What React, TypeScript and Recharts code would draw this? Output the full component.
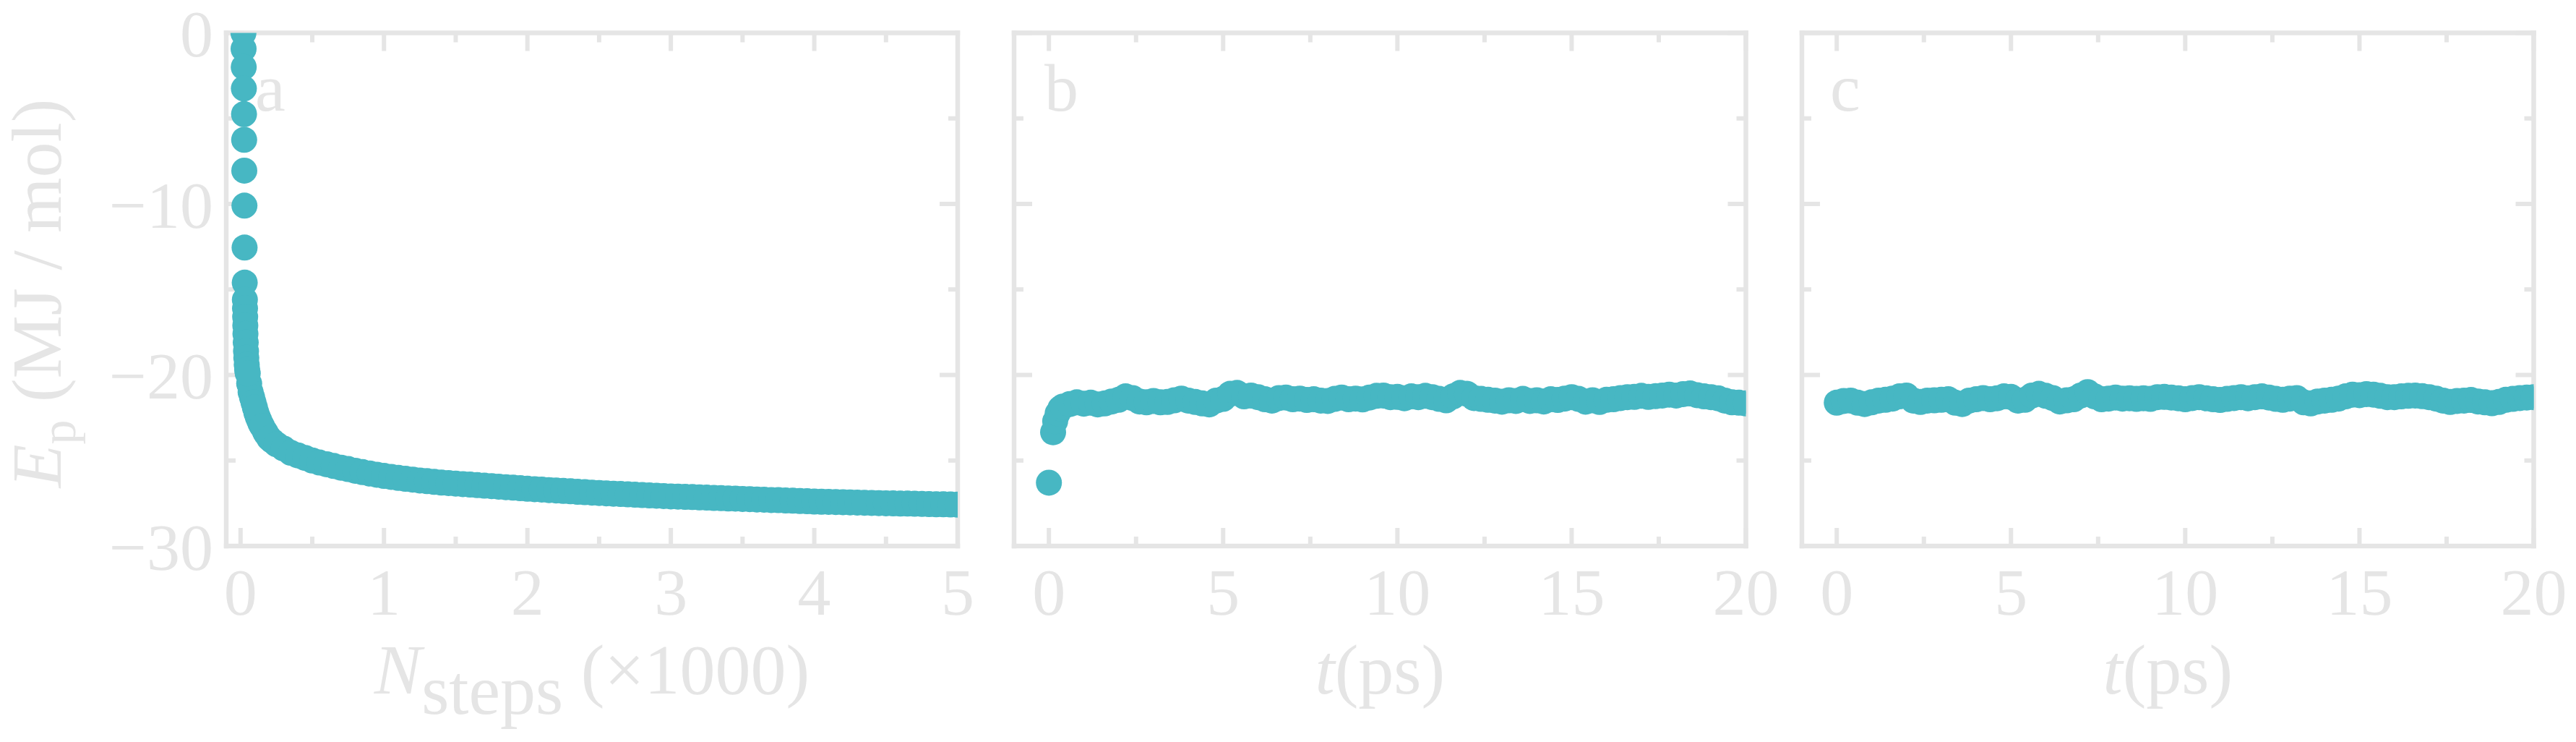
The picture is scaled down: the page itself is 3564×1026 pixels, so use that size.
import React from 'react';
import { ScatterChart, Scatter, XAxis, YAxis } from 'recharts';

const INK = '#e5e5e5';
const DOT = '#47b7c3';
const FONT = '"Liberation Serif", "DejaVu Serif", serif';

// panel a: energy minimisation, x in thousands of steps
const minEarlySteps = [0.020, 0.021, 0.022, 0.023, 0.024, 0.025, 0.026, 0.027, 0.028, 0.029,
  0.030, 0.031, 0.032, 0.033, 0.034, 0.036, 0.038, 0.040, 0.043, 0.046, 0.06, 0.07, 0.08, 0.09,
  0.11, 0.12, 0.13, 0.14, 0.17, 0.18, 0.22];
const minEarlyEnergy = [0.0, -0.93, -2.0, -3.25, -4.75, -6.25, -8.05, -10.1, -12.55, -14.6,
  -15.6, -16.1, -16.6, -17.1, -17.6, -18.1, -18.6, -19.0, -19.4, -19.7, -20.5, -21.0, -21.3, -21.6,
  -22.2, -22.45, -22.65, -22.85, -23.3, -23.45, -23.85];
const minStep = 0.05; // sampling of the slow tail, starts at 0.05
const minLateEnergy = [
  -19.9, -21.9, -23.0, -23.7, -24.05, -24.3, -24.55, -24.7, -24.85, -25.0,
  -25.12, -25.22, -25.32, -25.42, -25.5, -25.6, -25.68, -25.76, -25.83, -25.9,
  -25.96, -26.02, -26.07, -26.12, -26.17, -26.21, -26.25, -26.29, -26.32, -26.35,
  -26.38, -26.41, -26.44, -26.47, -26.5, -26.53, -26.56, -26.59, -26.62, -26.65,
  -26.68, -26.7, -26.73, -26.75, -26.78, -26.8, -26.83, -26.85, -26.88, -26.9,
  -26.92, -26.94, -26.96, -26.98, -27.0, -27.02, -27.04, -27.06, -27.08, -27.1,
  -27.11, -27.13, -27.14, -27.16, -27.17, -27.19, -27.2, -27.22, -27.23, -27.25,
  -27.26, -27.28, -27.29, -27.31, -27.32, -27.34, -27.35, -27.37, -27.38, -27.4,
  -27.41, -27.42, -27.43, -27.44, -27.45, -27.46, -27.47, -27.48, -27.49, -27.5,
  -27.51, -27.52, -27.52, -27.53, -27.54, -27.55, -27.56, -27.56, -27.57, -27.58,
];

// panel b: MD run starting from the minimised structure (t in ps)
const mdStep = 0.2;
const runBEarlyTime = [0, 0.12, 0.18, 0.25, 0.33];
const runBEarlyEnergy = [-26.3, -23.35, -22.7, -22.25, -21.95];
const runBStart = 0.4;
const runBEnergy = [
  -21.85, -21.7, -21.6, -21.68, -21.62, -21.72, -21.66, -21.55, -21.45, -21.25,
  -21.35, -21.55, -21.6, -21.52, -21.6, -21.58, -21.48, -21.38, -21.5, -21.58,
  -21.66, -21.72, -21.5, -21.4, -21.1, -21.05, -21.25, -21.2, -21.3, -21.42,
  -21.5, -21.35, -21.32, -21.42, -21.38, -21.46, -21.42, -21.5, -21.52, -21.4,
  -21.32, -21.42, -21.38, -21.43, -21.32, -21.22, -21.2, -21.3, -21.28, -21.36,
  -21.25, -21.3, -21.22, -21.3, -21.4, -21.48, -21.25, -21.05, -21.1, -21.35,
  -21.4, -21.45, -21.5, -21.56, -21.48, -21.52, -21.4, -21.52, -21.48, -21.55,
  -21.42, -21.46, -21.38, -21.3, -21.4, -21.56, -21.48, -21.58, -21.45, -21.42,
  -21.35, -21.3, -21.28, -21.22, -21.28, -21.24, -21.2, -21.15, -21.2, -21.12,
  -21.08, -21.18, -21.25, -21.3, -21.36, -21.5, -21.6, -21.62, -21.66,
];

// panel c: continued MD run (t in ps, 0..20)
const runCEnergy = [
  -21.62, -21.52, -21.5, -21.62, -21.7, -21.6, -21.5, -21.45, -21.38, -21.25,
  -21.2, -21.5, -21.58, -21.5, -21.48, -21.45, -21.42, -21.62, -21.7, -21.5,
  -21.42, -21.35, -21.42, -21.36, -21.25, -21.28, -21.5, -21.45, -21.2, -21.1,
  -21.22, -21.35, -21.55, -21.48, -21.42, -21.2, -21.0, -21.25, -21.42, -21.38,
  -21.32, -21.38, -21.36, -21.4, -21.36, -21.4, -21.3, -21.28, -21.32, -21.36,
  -21.42, -21.35, -21.3, -21.36, -21.42, -21.46, -21.4, -21.35, -21.3, -21.36,
  -21.3, -21.25, -21.32, -21.4, -21.45, -21.38, -21.35, -21.6, -21.66, -21.55,
  -21.5, -21.45, -21.38, -21.25, -21.15, -21.18, -21.12, -21.15, -21.22, -21.3,
  -21.3, -21.25, -21.22, -21.2, -21.24, -21.3, -21.38, -21.5, -21.58, -21.52,
  -21.5, -21.46, -21.55, -21.6, -21.65, -21.58, -21.45, -21.4, -21.35, -21.32,
  -21.3,
];

const yMajor = [0, -10, -20, -30];
const yMinor = [-5, -15, -25];
const minMajor = [0, 1, 2, 3, 4, 5];
const minMinor = [0.5, 1.5, 2.5, 3.5, 4.5];
const mdMajor = [0, 5, 10, 15, 20];
const mdMinor = [2.5, 7.5, 12.5, 17.5];

const minData = [
  ...minEarlySteps.map((x, i) => ({ x, y: minEarlyEnergy[i] })),
  ...minLateEnergy.map((y, i) => ({ x: +(minStep * (i + 1)).toFixed(2), y })),
];
const runBData = [
  ...runBEarlyTime.map((x, i) => ({ x, y: runBEarlyEnergy[i] })),
  ...runBEnergy.map((y, i) => ({ x: +(runBStart + mdStep * i).toFixed(2), y })),
];
const runCData = runCEnergy.map((y, i) => ({ x: +(mdStep * i).toFixed(2), y }));

const W = 3564;
const H = 1026;
const TOP = 45.5;
const BOTTOM = 755;
const MAJOR_LEN = 25;
const MINOR_LEN = 13;
const frame = { stroke: INK, strokeWidth: 6.5, strokeLinecap: 'square' as const };
const minus = (v: number) => String(v).replace('-', '\u2212');

// inward tick marks on bottom and top, label under the major ones
const makeXTick = (major: number[]) => (p: any) => {
  const v = p.payload.value;
  const isMajor = major.includes(v);
  const len = isMajor ? MAJOR_LEN : MINOR_LEN;
  return (
    <g>
      <line x1={p.x} x2={p.x} y1={BOTTOM} y2={BOTTOM - len} stroke={INK} strokeWidth={6} />
      <line x1={p.x} x2={p.x} y1={TOP} y2={TOP + len} stroke={INK} strokeWidth={6} />
      {isMajor && (
        <text x={p.x} y={p.y} dy="0.71em" textAnchor="middle" fill={INK} fontSize={92} fontFamily={FONT}>{v}</text>
      )}
    </g>
  );
};

// inward tick marks on left and right, optional labels
const makeYTick = (left: number, right: number, labels: boolean) => (p: any) => {
  const v = p.payload.value;
  const isMajor = yMajor.includes(v);
  const len = isMajor ? MAJOR_LEN : MINOR_LEN;
  return (
    <g>
      <line x1={left} x2={left + len} y1={p.y} y2={p.y} stroke={INK} strokeWidth={6} />
      <line x1={right} x2={right - len} y1={p.y} y2={p.y} stroke={INK} strokeWidth={6} />
      {labels && isMajor && (
        <text x={p.x} y={p.y} dy="0.355em" textAnchor="end" fill={INK} fontSize={92} fontFamily={FONT}>{minus(v)}</text>
      )}
    </g>
  );
};

const stepsTitle = (p: any) => {
  const vb = p.viewBox;
  return (
    <text x={vb.x + vb.width / 2} y={vb.y + 204} textAnchor="middle" fill={INK} fontFamily={FONT} fontSize={98}>
      <tspan fontStyle="italic">N</tspan>
      <tspan dy={28}>steps</tspan>
      <tspan dy={-28}>{' (\u00d71000)'}</tspan>
    </text>
  );
};

const timeTitle = (p: any) => {
  const vb = p.viewBox;
  return (
    <text x={vb.x + vb.width / 2} y={vb.y + 204} textAnchor="middle" fill={INK} fontFamily={FONT} fontSize={98}>
      <tspan fontStyle="italic">t</tspan>
      <tspan>(ps)</tspan>
    </text>
  );
};

const energyTitle = (p: any) => {
  const vb = p.viewBox;
  const cx = vb.x - 228;
  const cy = vb.y + 360;
  return (
    <text x={cx} y={cy} transform={`rotate(-90, ${cx}, ${cy})`} textAnchor="middle" fill={INK} fontFamily={FONT} fontSize={98}>
      <tspan fontStyle="italic">E</tspan>
      <tspan fontSize={68} dy={20}>p</tspan>
      <tspan dy={-20}>{' (MJ / mol)'}</tspan>
    </text>
  );
};

const dot = (p: any) => <circle cx={p.cx} cy={p.cy} r={18} fill={DOT} />;
const noDot = () => <g />;

type PanelProps = {
  data: { x: number; y: number }[];
  left: number;
  right: number;
  xDomain: [number, number];
  xMajor: number[];
  xMinor: number[];
  title: (p: any) => React.ReactElement;
  yLabels?: boolean;
};

const layer: React.CSSProperties = { position: 'absolute', left: 0, top: 0 };

// two stacked charts with the same plot box: ticks and labels below, dots and frame above
const Panel: React.FC<PanelProps> = ({ data, left, right, xDomain, xMajor, xMinor, title, yLabels }) => (
  <>
    <div style={layer}>
      <ScatterChart width={W} height={H} margin={{ top: TOP, bottom: H - BOTTOM - 1, left: left - 1, right: W - right }}>
        <XAxis xAxisId="x" type="number" dataKey="x" domain={xDomain} allowDataOverflow ticks={[...xMajor, ...xMinor]} interval={0}
          height={1} tickLine={false} tickSize={0} tickMargin={30} axisLine={false} tick={makeXTick(xMajor)} label={{ content: title }} />
        <YAxis yAxisId="y" type="number" dataKey="y" domain={[-30, 0]} allowDataOverflow ticks={[...yMajor, ...yMinor]} interval={0}
          width={1} tickLine={false} tickSize={0} tickMargin={18} axisLine={false}
          tick={makeYTick(left, right, !!yLabels)} label={yLabels ? { content: energyTitle } : undefined} />
        <Scatter xAxisId="x" yAxisId="y" data={data} shape={noDot} isAnimationActive={false} />
      </ScatterChart>
    </div>
    <div style={layer}>
      <ScatterChart width={W} height={H} margin={{ top: TOP, bottom: H - BOTTOM, left, right: W - right }}>
        <XAxis xAxisId="x" type="number" dataKey="x" domain={xDomain} allowDataOverflow hide />
        <YAxis yAxisId="y" type="number" dataKey="y" domain={[-30, 0]} allowDataOverflow hide />
        <Scatter xAxisId="x" yAxisId="y" data={data} shape={dot} isAnimationActive={false} />
        <XAxis xAxisId="xb" type="number" domain={xDomain} allowDataOverflow ticks={xMajor} interval={0} mirror
          height={1} tickLine={false} tick={false} axisLine={frame} />
        <XAxis xAxisId="xt" orientation="top" type="number" domain={xDomain} allowDataOverflow ticks={xMajor} interval={0} mirror
          height={1} tickLine={false} tick={false} axisLine={frame} />
        <YAxis yAxisId="yl" type="number" domain={[-30, 0]} allowDataOverflow ticks={yMajor} interval={0} mirror
          width={1} tickLine={false} tick={false} axisLine={frame} />
        <YAxis yAxisId="yr" orientation="right" type="number" domain={[-30, 0]} allowDataOverflow ticks={yMajor} interval={0} mirror
          width={1} tickLine={false} tick={false} axisLine={frame} />
      </ScatterChart>
    </div>
  </>
);

export default function App() {
  return (
    <div style={{ position: 'relative', width: W, height: H, background: '#fff', overflow: 'hidden' }}>
      <style>{'body{margin:0}'}</style>
      <svg width={W} height={H} style={layer}>
        <g fill={INK} fontFamily={FONT} fontSize={94}>
          <text x={353} y={153}>a</text>
          <text x={1445} y={153}>b</text>
          <text x={2532} y={153}>c</text>
        </g>
      </svg>
      <Panel data={minData} left={313} right={1325} xDomain={[-0.1, 5]} xMajor={minMajor} xMinor={minMinor} title={stepsTitle} yLabels />
      <Panel data={runBData} left={1403} right={2415.5} xDomain={[-1, 20]} xMajor={mdMajor} xMinor={mdMinor} title={timeTitle} />
      <Panel data={runCData} left={2493} right={3505.5} xDomain={[-1, 20]} xMajor={mdMajor} xMinor={mdMinor} title={timeTitle} />
    </div>
  );
}
